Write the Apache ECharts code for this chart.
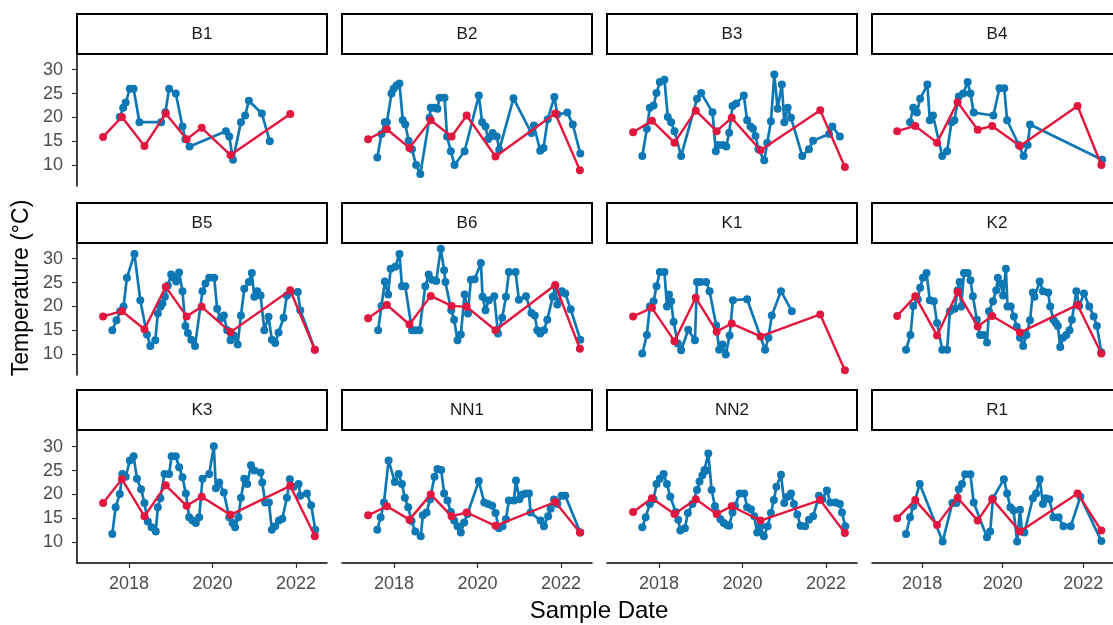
<!DOCTYPE html>
<html>
<head>
<meta charset="utf-8">
<script src="https://cdn.jsdelivr.net/npm/echarts@6/dist/echarts.min.js"></script>
<style>
  html, body { margin: 0; padding: 0; background: #fff; }
  #chart { width: 1113px; height: 625px; }
</style>
</head>
<body>
<div id="chart"></div>
<script>
// panels, in facet order
const sites = ['B1', 'B2', 'B3', 'B4', 'B5', 'B6', 'K1', 'K2', 'K3', 'NN1', 'NN2', 'R1']

// red series: shared sampling dates (decimal years)
const redDates = [2017.38, 2017.83, 2018.37, 2018.88, 2019.38, 2019.74, 2020.43, 2021.86, 2022.45]

const b1Red = [15.9, 20.1, 14.0, 20.8, 15.4, 17.8, 12.1, 20.7]
const b2Red = [15.4, 17.5, 13.6, 19.4, 16.0, 20.4, 11.8, 20.8, 8.9]
const b3Red = [16.9, 19.3, 14.7, 21.4, 17.1, 19.9, 13.1, 21.5, 9.6]
const b4Red = [17.1, 18.2, 14.7, 23.2, 17.4, 18.2, 14.0, 22.4, 10.0]
const b5Red = [17.9, 19.0, 15.2, 24.1, 17.9, 19.9, 14.6, 23.4, 10.9]
const b6Red = [17.5, 20.3, 16.2, 22.2, 20.1, 19.9, 15.0, 24.5, 11.1]
const k1Red = [17.9, 19.7, 12.7, 21.8, 14.7, 16.4, 13.7, 18.3, 6.6]
const k2Red = [18.0, 22.1, 13.9, 23.0, 15.8, 18.0, 14.5, 20.3, 10.1]
const k3Red = [18.2, 23.2, 15.4, 21.9, 17.6, 19.5, 15.7, 21.8, 11.2]
const nn1Red = [15.6, 17.5, 14.7, 20.0, 15.4, 16.2, 13.4, 18.4, 12.0]
const nn2Red = [16.3, 19.2, 15.9, 19.0, 15.9, 17.5, 14.5, 18.8, 11.9]
const r1Red = [15.0, 18.8, 13.6, 19.3, 14.5, 19.0, 12.2, 20.2, 12.4]

// blue series: [decimal year, temperature]
const b1Blue = [[2017.78, 20.1], [2017.86, 22.0], [2017.92, 23.1], [2018.02, 26.0], [2018.11, 26.0], [2018.25, 19.0],
  [2018.77, 19.0], [2018.87, 21.1], [2018.96, 26.0], [2019.12, 25.0], [2019.28, 18.1], [2019.35, 15.4], [2019.45, 13.9],
  [2020.32, 17.1], [2020.40, 16.0], [2020.49, 11.1], [2020.68, 19.0], [2020.78, 20.4], [2020.87, 23.5], [2021.18, 20.8],
  [2021.37, 15.0]]
const b2Blue = [[2017.60, 11.6], [2017.70, 16.5], [2017.78, 19.0], [2017.83, 19.0], [2017.94, 25.0], [2017.99, 26.0],
  [2018.06, 26.7], [2018.13, 27.1], [2018.21, 19.4], [2018.27, 18.5], [2018.35, 15.1], [2018.43, 13.3], [2018.53, 10.0],
  [2018.63, 8.1], [2018.85, 19.9], [2018.88, 22.0], [2018.97, 22.0], [2019.04, 21.8], [2019.09, 24.1], [2019.21, 24.1],
  [2019.27, 16.0], [2019.36, 12.9], [2019.45, 10.0], [2019.69, 12.9], [2020.03, 24.6], [2020.11, 19.0], [2020.19, 18.1],
  [2020.25, 15.4], [2020.31, 16.0], [2020.36, 16.7], [2020.46, 16.0], [2020.52, 13.2], [2020.86, 24.0], [2021.29, 16.7],
  [2021.35, 18.3], [2021.50, 13.0], [2021.58, 13.6], [2021.68, 19.6], [2021.84, 24.3], [2021.91, 20.6], [2022.15, 21.0],
  [2022.28, 18.5], [2022.46, 12.4]]
const b3Blue = [[2017.60, 11.9], [2017.71, 17.6], [2017.78, 22.0], [2017.87, 22.5], [2017.94, 25.1], [2018.02, 27.4],
  [2018.13, 27.9], [2018.21, 20.1], [2018.29, 19.0], [2018.37, 17.1], [2018.53, 11.9], [2018.91, 23.9], [2019.01, 25.1],
  [2019.28, 21.1], [2019.36, 12.9], [2019.41, 14.2], [2019.52, 14.2], [2019.61, 13.9], [2019.68, 16.8], [2019.76, 22.4],
  [2019.85, 22.9], [2020.03, 24.6], [2020.11, 19.4], [2020.19, 18.1], [2020.25, 17.6], [2020.31, 16.1], [2020.38, 13.3],
  [2020.52, 11.0], [2020.59, 14.6], [2020.68, 19.2], [2020.76, 29.0], [2020.84, 21.8], [2020.94, 26.9], [2021.00, 19.0],
  [2021.08, 22.0], [2021.16, 19.9], [2021.43, 11.9], [2021.59, 13.3], [2021.69, 15.1], [2022.07, 16.5], [2022.15, 18.1],
  [2022.33, 16.0]]
const b4Blue = [[2017.70, 19.0], [2017.78, 22.0], [2017.87, 21.0], [2017.95, 23.9], [2018.13, 26.9], [2018.19, 19.4],
  [2018.27, 20.4], [2018.50, 11.9], [2018.62, 12.9], [2018.73, 19.0], [2018.80, 19.4], [2018.91, 24.4], [2019.02, 25.0],
  [2019.13, 27.4], [2019.20, 25.0], [2019.28, 21.0], [2019.77, 20.4], [2019.92, 26.1], [2020.04, 26.1], [2020.11, 19.4],
  [2020.40, 14.2], [2020.52, 11.9], [2020.62, 14.2], [2020.68, 18.5], [2022.47, 11.1]]
const b5Blue = [[2017.60, 15.0], [2017.70, 17.1], [2017.79, 19.0], [2017.87, 20.0], [2017.95, 26.0], [2018.13, 31.0],
  [2018.27, 21.3], [2018.43, 14.1], [2018.51, 11.7], [2018.63, 12.9], [2018.69, 18.5], [2018.75, 19.9], [2018.80, 20.6],
  [2018.86, 22.0], [2018.93, 24.4], [2019.01, 26.7], [2019.07, 26.0], [2019.13, 25.2], [2019.20, 27.1], [2019.28, 23.2],
  [2019.35, 15.9], [2019.41, 14.4], [2019.49, 13.0], [2019.58, 11.7], [2019.76, 23.2], [2019.83, 24.8], [2019.92, 26.0],
  [2020.04, 26.0], [2020.11, 19.5], [2020.19, 17.4], [2020.27, 18.1], [2020.35, 15.0], [2020.43, 12.9], [2020.51, 13.9],
  [2020.60, 12.0], [2020.68, 18.1], [2020.76, 23.7], [2020.87, 25.1], [2020.94, 27.0], [2021.00, 22.0], [2021.07, 23.2],
  [2021.15, 22.3], [2021.24, 15.0], [2021.34, 17.8], [2021.42, 13.0], [2021.50, 12.3], [2021.58, 14.5], [2021.70, 17.6],
  [2021.78, 22.3], [2021.86, 22.9], [2022.04, 23.0], [2022.10, 19.2], [2022.45, 10.9]]
const b6Blue = [[2017.62, 15.0], [2017.70, 20.1], [2017.78, 25.2], [2017.86, 22.5], [2017.92, 27.9], [2018.03, 28.3],
  [2018.13, 31.0], [2018.19, 24.2], [2018.27, 24.2], [2018.43, 15.0], [2018.51, 15.0], [2018.61, 15.0], [2018.75, 24.2],
  [2018.83, 26.7], [2018.91, 25.6], [2019.01, 25.3], [2019.12, 32.1], [2019.20, 27.6], [2019.23, 25.1], [2019.37, 19.2],
  [2019.44, 17.2], [2019.52, 12.9], [2019.60, 14.1], [2019.69, 22.5], [2019.77, 18.5], [2019.84, 25.6], [2019.93, 25.7],
  [2020.08, 29.1], [2020.12, 22.0], [2020.19, 19.2], [2020.27, 21.3], [2020.40, 22.1], [2020.49, 14.3], [2020.59, 17.6],
  [2020.68, 22.0], [2020.75, 27.2], [2020.91, 27.2], [2020.99, 21.4], [2021.16, 22.1], [2021.29, 18.6], [2021.37, 18.1],
  [2021.43, 15.0], [2021.50, 14.3], [2021.59, 15.0], [2021.67, 17.2], [2021.80, 22.0], [2021.86, 24.2], [2021.91, 20.4],
  [2022.02, 23.2], [2022.10, 22.7], [2022.23, 19.4], [2022.46, 13.0]]
const k1Blue = [[2017.60, 10.1], [2017.71, 14.0], [2017.78, 20.0], [2017.87, 21.1], [2017.94, 24.2], [2018.02, 27.2],
  [2018.13, 27.2], [2018.19, 20.0], [2018.24, 22.5], [2018.29, 21.1], [2018.35, 16.7], [2018.45, 12.2], [2018.53, 10.8],
  [2018.70, 15.1], [2018.86, 12.9], [2018.91, 25.1], [2018.99, 25.1], [2019.13, 25.1], [2019.21, 23.2], [2019.37, 16.0],
  [2019.44, 10.9], [2019.52, 12.0], [2019.60, 9.9], [2019.69, 13.9], [2019.77, 21.3], [2020.11, 21.5], [2020.54, 10.9],
  [2020.62, 13.4], [2020.70, 18.1], [2020.92, 23.2], [2021.18, 19.0]]
const k2Blue = [[2017.60, 10.9], [2017.71, 14.0], [2017.78, 20.1], [2017.89, 21.5], [2017.95, 23.9], [2018.02, 26.0],
  [2018.11, 27.0], [2018.19, 21.3], [2018.29, 21.1], [2018.37, 16.5], [2018.50, 10.9], [2018.62, 10.9], [2018.69, 19.0],
  [2018.81, 19.5], [2018.88, 23.4], [2018.93, 25.1], [2018.97, 20.0], [2019.04, 27.0], [2019.13, 27.0], [2019.20, 25.5],
  [2019.26, 22.1], [2019.36, 17.2], [2019.44, 14.0], [2019.53, 14.0], [2019.61, 12.4], [2019.66, 19.0], [2019.76, 21.1],
  [2019.84, 23.4], [2019.88, 26.0], [2019.95, 24.8], [2020.01, 22.3], [2020.08, 27.9], [2020.12, 20.0], [2020.20, 20.0],
  [2020.28, 17.9], [2020.35, 15.7], [2020.43, 13.4], [2020.51, 11.7], [2020.59, 14.0], [2020.68, 17.1], [2020.75, 22.9],
  [2020.79, 22.0], [2020.92, 25.2], [2021.00, 23.2], [2021.13, 22.9], [2021.18, 20.0], [2021.26, 17.2], [2021.32, 16.5],
  [2021.37, 15.9], [2021.43, 11.5], [2021.50, 13.4], [2021.58, 14.0], [2021.66, 15.0], [2021.72, 17.2], [2021.83, 23.2],
  [2021.90, 20.1], [2022.02, 22.7], [2022.15, 20.0], [2022.26, 17.9], [2022.34, 15.9], [2022.45, 10.4]]
const k3Blue = [[2017.60, 11.7], [2017.68, 17.3], [2017.78, 20.1], [2017.84, 24.3], [2017.92, 23.7], [2018.02, 27.1],
  [2018.11, 28.0], [2018.19, 23.3], [2018.29, 21.1], [2018.37, 18.2], [2018.45, 14.3], [2018.54, 13.1], [2018.64, 12.2],
  [2018.69, 17.3], [2018.75, 19.2], [2018.85, 24.3], [2018.96, 24.3], [2019.02, 28.0], [2019.12, 28.0], [2019.20, 25.7],
  [2019.28, 23.6], [2019.36, 20.2], [2019.44, 15.2], [2019.52, 14.5], [2019.60, 14.0], [2019.68, 15.2], [2019.76, 23.3],
  [2019.92, 24.3], [2020.03, 30.1], [2020.08, 21.3], [2020.16, 22.5], [2020.27, 20.4], [2020.40, 15.2], [2020.48, 14.0],
  [2020.54, 13.1], [2020.62, 15.2], [2020.68, 19.3], [2020.76, 23.3], [2020.83, 22.2], [2020.92, 26.1], [2021.00, 25.0],
  [2021.15, 24.6], [2021.19, 22.5], [2021.26, 18.3], [2021.35, 18.3], [2021.42, 12.6], [2021.50, 13.3], [2021.59, 14.5],
  [2021.67, 14.9], [2021.78, 19.3], [2021.85, 23.2], [2021.94, 21.6], [2022.06, 22.2], [2022.10, 19.7], [2022.26, 20.2],
  [2022.36, 17.7], [2022.46, 12.6]]
const nn1Blue = [[2017.60, 12.6], [2017.68, 15.2], [2017.76, 18.3], [2017.87, 27.1], [2018.02, 22.6], [2018.11, 24.3],
  [2018.19, 22.2], [2018.26, 19.3], [2018.34, 17.3], [2018.42, 14.4], [2018.51, 12.2], [2018.64, 11.2], [2018.69, 15.6],
  [2018.78, 16.2], [2018.86, 18.9], [2018.97, 23.7], [2019.04, 25.3], [2019.13, 25.1], [2019.20, 20.2], [2019.28, 18.7],
  [2019.36, 16.3], [2019.44, 14.5], [2019.52, 13.3], [2019.60, 12.0], [2019.68, 14.1], [2019.76, 15.9], [2020.03, 22.8],
  [2020.16, 18.3], [2020.25, 18.0], [2020.35, 17.6], [2020.43, 16.1], [2020.51, 12.9], [2020.60, 13.3], [2020.68, 14.8],
  [2020.75, 18.7], [2020.87, 18.7], [2020.92, 22.9], [2021.00, 19.0], [2021.07, 19.9], [2021.15, 20.2], [2021.23, 20.2],
  [2021.27, 16.2], [2021.51, 14.5], [2021.59, 13.3], [2021.69, 15.4], [2021.75, 17.0], [2021.83, 18.9], [2021.91, 18.0],
  [2022.01, 19.7], [2022.10, 19.7], [2022.46, 12.0]]
const nn2Blue = [[2017.60, 13.1], [2017.68, 15.2], [2017.78, 18.0], [2017.87, 19.0], [2017.94, 22.2], [2018.02, 23.3],
  [2018.11, 24.3], [2018.19, 22.2], [2018.27, 19.5], [2018.40, 16.3], [2018.46, 14.7], [2018.51, 12.4], [2018.62, 12.9],
  [2018.69, 16.1], [2018.80, 18.0], [2018.91, 20.9], [2018.97, 22.7], [2019.04, 24.0], [2019.09, 25.1], [2019.13, 25.0],
  [2019.18, 28.6], [2019.26, 20.9], [2019.34, 17.5], [2019.39, 16.1], [2019.47, 14.8], [2019.55, 14.0], [2019.63, 13.6],
  [2019.68, 13.4], [2019.76, 16.2], [2019.82, 17.6], [2019.93, 20.2], [2020.04, 20.2], [2020.11, 17.3], [2020.20, 16.9],
  [2020.28, 15.4], [2020.35, 12.0], [2020.43, 13.3], [2020.51, 11.2], [2020.60, 13.3], [2020.68, 16.1], [2020.75, 18.8],
  [2020.81, 21.6], [2020.92, 24.1], [2021.00, 18.2], [2021.08, 19.5], [2021.16, 20.2], [2021.23, 18.0], [2021.31, 15.8],
  [2021.39, 13.4], [2021.50, 13.3], [2021.59, 14.7], [2021.69, 15.4], [2021.83, 19.7], [2021.91, 19.0], [2022.02, 20.8],
  [2022.10, 18.3], [2022.23, 18.3], [2022.33, 18.0], [2022.38, 16.2], [2022.46, 13.3]]
const r1Blue = [[2017.60, 11.7], [2017.70, 15.2], [2017.78, 17.5], [2017.94, 22.2], [2018.51, 10.1], [2018.75, 18.2],
  [2018.85, 18.2], [2018.91, 21.1], [2018.99, 22.2], [2019.07, 24.2], [2019.20, 24.2], [2019.28, 18.3], [2019.61, 11.0],
  [2019.69, 12.2], [2019.76, 19.2], [2020.03, 23.2], [2020.11, 20.2], [2020.19, 17.3], [2020.27, 16.6], [2020.36, 10.1],
  [2020.43, 16.8], [2020.48, 12.2], [2020.54, 12.0], [2020.75, 19.2], [2020.83, 20.2], [2020.92, 23.2], [2021.00, 18.0],
  [2021.07, 19.2], [2021.16, 19.0], [2021.26, 15.2], [2021.39, 15.2], [2021.51, 13.3], [2021.69, 13.3], [2021.93, 19.5],
  [2022.45, 10.2]]

const yTicks = [10, 15, 20, 25, 30]
const xTicks = [2018, 2020, 2022]

const blueBySite = [b1Blue, b2Blue, b3Blue, b4Blue, b5Blue, b6Blue, k1Blue, k2Blue, k3Blue, nn1Blue, nn2Blue, r1Blue]
const redBySite = [b1Red, b2Red, b3Red, b4Red, b5Red, b6Red, k1Red, k2Red, k3Red, nn1Red, nn2Red, r1Red]

const BLUE = '#0E78B4'
const RED = '#E2173F'
const FONT = 'Liberation Sans, Arial, sans-serif'

// facet layout
const colLeft = [77, 342, 607, 872]
const stripTop = [14, 203, 390]
const plotTop = [54, 243, 431]
const panelW = 250
const stripH = 40
const plotH = 132

const grid = []
const xAxis = []
const yAxis = []
const series = []
const graphic = []

sites.forEach((name, i) => {
  const row = Math.floor(i / 4)
  const col = i % 4
  grid.push({ left: colLeft[col], top: plotTop[row], width: panelW, height: plotH })

  xAxis.push({
    type: 'value',
    gridIndex: i,
    min: 2016.755,
    max: 2022.74,
    show: row === 2,
    splitLine: { show: false },
    axisLine: { show: true, lineStyle: { color: '#000', width: 1.5 } },
    axisTick: { show: true, length: 5, customValues: xTicks, lineStyle: { color: '#333', width: 1.2 } },
    axisLabel: {
      customValues: xTicks,
      margin: 12,
      color: '#4D4D4D',
      fontSize: 18,
      fontFamily: FONT,
      formatter: v => String(Math.round(v))
    }
  })

  yAxis.push({
    type: 'value',
    gridIndex: i,
    min: 5.6,
    max: 33.3,
    show: col === 0,
    splitLine: { show: false },
    axisLine: { show: true, lineStyle: { color: '#000', width: 1.5 } },
    axisTick: { show: true, length: 5, customValues: yTicks, lineStyle: { color: '#333', width: 1.2 } },
    axisLabel: {
      customValues: yTicks,
      margin: 14,
      color: '#4D4D4D',
      fontSize: 18,
      fontFamily: FONT
    }
  })

  series.push({
    type: 'line',
    xAxisIndex: i,
    yAxisIndex: i,
    data: blueBySite[i],
    symbol: 'circle',
    symbolSize: 8,
    itemStyle: { color: BLUE },
    lineStyle: { color: BLUE, width: 2.7 },
    z: 2
  })
  series.push({
    type: 'line',
    xAxisIndex: i,
    yAxisIndex: i,
    data: redBySite[i].map((v, k) => [redDates[k], v]),
    symbol: 'circle',
    symbolSize: 8,
    itemStyle: { color: RED },
    lineStyle: { color: RED, width: 2.4 },
    z: 3
  })

  // strip header
  graphic.push({
    type: 'rect',
    shape: { x: colLeft[col], y: stripTop[row], width: panelW, height: stripH },
    style: { fill: '#fff', stroke: '#000', lineWidth: 2 }
  })
  graphic.push({
    type: 'text',
    x: colLeft[col] + panelW / 2,
    y: stripTop[row] + stripH / 2,
    style: { text: name, fill: '#1A1A1A', fontSize: 17, fontFamily: FONT, align: 'center', verticalAlign: 'middle' }
  })
})

// axis titles
graphic.push({
  type: 'text',
  x: 22,
  y: 288,
  rotation: Math.PI / 2,
  style: { text: 'Temperature (°C)', fill: '#000', fontSize: 23, fontFamily: FONT, align: 'center', verticalAlign: 'middle' }
})
graphic.push({
  type: 'text',
  x: 599,
  y: 611,
  style: { text: 'Sample Date', fill: '#000', fontSize: 24, fontFamily: FONT, align: 'center', verticalAlign: 'middle' }
})

const chart = echarts.init(document.getElementById('chart'))
chart.setOption({
  animation: false,
  backgroundColor: '#fff',
  grid,
  xAxis,
  yAxis,
  series,
  graphic
})
</script>
</body>
</html>
